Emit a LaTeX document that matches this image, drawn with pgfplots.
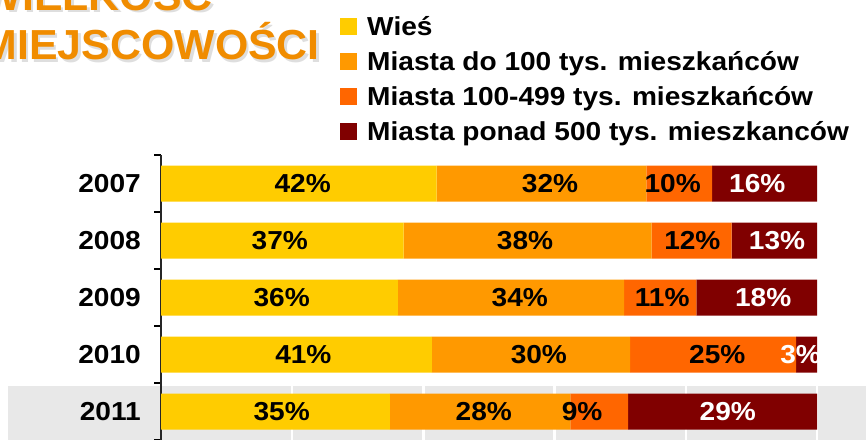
\documentclass[border=0pt]{standalone}
\usepackage{fontspec}
\setmainfont{Liberation Sans}[FakeStretch=1.08]
\newfontfamily\titlefam{Liberation Sans}[FakeStretch=1.02]
\usepackage{pgfplots}
\pgfplotsset{compat=1.18}
\definecolor{cY}{HTML}{FFCC00}
\definecolor{cO}{HTML}{FF9900}
\definecolor{cR}{HTML}{FF6600}
\definecolor{cD}{HTML}{800000}
\definecolor{cT}{HTML}{F08C00}
\definecolor{band}{HTML}{E8E8E8}
\newcommand{\bigf}{\fontsize{26}{28}\selectfont\bfseries}
\newcommand{\titf}{\titlefam\fontsize{42}{46}\selectfont\bfseries}
\begin{document}
\begin{tikzpicture}[x=1pt,y=1pt]
\useasboundingbox (0,0) rectangle (866,439);
\clip (0,0) rectangle (866,439);
\fill[band] (8,-5) rectangle (870,53);
% title with soft shadow
\node[anchor=base east, inner sep=0pt, text=black!13, font=\titf] at (322.5,376.5) {MIEJSCOWOŚCI};
\node[anchor=base east, inner sep=0pt, text=cT, font=\titf] (t2) at (320,379) {MIEJSCOWOŚCI};
\node[anchor=base west, inner sep=0pt, text=black!13, font=\titf] at ([xshift=2.5pt,yshift=47pt]t2.base west) {WIELKOŚĆ};
\node[anchor=base west, inner sep=0pt, text=cT, font=\titf] at ([yshift=49.5pt]t2.base west) {WIELKOŚĆ};
\begin{axis}[at={(161pt,-1pt)}, anchor=south west, scale only axis,
  width=656pt, height=285pt,
  xbar stacked, bar width=36pt,
  xmin=0, xmax=100, ymin=-0.5, ymax=4.5, y dir=reverse,
  axis lines*=left,
  x axis line style={draw=none},
  y axis line style={-, black!85, line width=1.2pt},
  xtick={0,20,...,100}, xticklabels={},
  xmajorgrids, major x grid style={white, line width=2.5pt},
  ytick={0,1,2,3,4}, yticklabels={2007,2008,2009,2010,2011},
  major tick length=0pt,
  minor ytick={-0.5,0.5,1.5,2.5,3.5,4.5}, minor tick length=7pt,
  tick align=outside, tick style={black, line width=1.2pt},
  yticklabel style={font=\bigf, inner sep=0pt, xshift=-20pt},
  legend cell align=left,
  legend image code/.code={\fill[#1] (0pt,0pt) rectangle (17pt,17pt);},
  legend style={at={(0.2729,1.491)}, anchor=north west, draw=none, fill=none,
    inner sep=0pt, row sep=9pt, column sep=10pt, font=\bigf,
    nodes={inner sep=0pt, text height=20pt, text depth=6pt, anchor=base west}},
]
\addplot[fill=cY, draw=none] coordinates {(42,0) (37,1) (36.1,2) (41.3,3) (34.9,4)};
\addlegendentry{Wieś}
\addplot[fill=cO, draw=none] coordinates {(32,0) (37.8,1) (34.5,2) (30.2,3) (27.5,4)};
\addlegendentry{Miasta do 100 tys. mieszkańców}
\addplot[fill=cR, draw=none] coordinates {(10,0) (12.2,1) (11.0,2) (25.3,3) (8.8,4)};
\addlegendentry{Miasta 100-499 tys. mieszkańców}
\addplot[fill=cD, draw=none] coordinates {(16,0) (13,1) (18.4,2) (3.2,3) (28.8,4)};
\addlegendentry{Miasta ponad 500 tys. mieszkanców}
\end{axis}
\begin{axis}[at={(161pt,-1pt)}, anchor=south west, scale only axis,
  width=656pt, height=285pt,
  xmin=0, xmax=100, ymin=-0.5, ymax=4.5, y dir=reverse,
  hide axis, clip=false]
\addplot[draw=none, mark=none, nodes near coords, point meta=explicit symbolic,
  nodes near coords style={anchor=center, font=\bigf, text=black, inner sep=0pt}]
  coordinates {(21.6,0)[42\%] (59.3,0)[32\%] (78.0,0)[10\%]
               (18.1,1)[37\%] (55.5,1)[38\%] (81.0,1)[12\%]
               (18.4,2)[36\%] (54.7,2)[34\%] (76.4,2)[11\%]
               (21.7,3)[41\%] (57.6,3)[30\%] (84.8,3)[25\%]
               (18.4,4)[35\%] (49.2,4)[28\%] (64.2,4)[9\%]};
\addplot[draw=none, mark=none, nodes near coords, point meta=explicit symbolic,
  nodes near coords style={anchor=center, font=\bigf, text=white, inner sep=0pt}]
  coordinates {(90.9,0)[16\%] (93.9,1)[13\%] (91.8,2)[18\%] (97.5,3)[3\%] (86.4,4)[29\%]};
\end{axis}
\end{tikzpicture}
\end{document}
